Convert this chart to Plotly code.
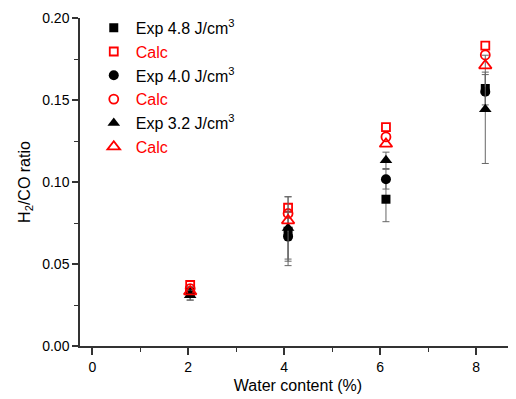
import plotly.graph_objects as go

water = [2.04, 4.08, 6.12, 8.19]

exp_48 = [0.032, 0.070, 0.0895, 0.157]
err_48 = [0.004, 0.021, 0.0137, 0.010]
calc_48 = [0.0372, 0.0843, 0.1335, 0.1832]

exp_40 = [0.033, 0.0667, 0.1017, 0.155]
err_40 = [0.003, 0.015, 0.006, 0.0105]
calc_40 = [0.035, 0.0808, 0.1275, 0.1775]

exp_32 = [0.031, 0.072, 0.1132, 0.1443]
err_32 = [0.003, 0.019, 0.005, 0.033]
calc_32 = [0.0332, 0.0765, 0.1232, 0.171]

names = ["Exp 4.8 J/cm<sup>3</sup>", "Calc", "Exp 4.0 J/cm<sup>3</sup>", "Calc",
         "Exp 3.2 J/cm<sup>3</sup>", "Calc"]

RED = "#FF0000"
fig = go.Figure()

def exp_trace(y, err, sym, name, size):
    return go.Scatter(x=water, y=y, mode="markers", name=name,
                      marker=dict(symbol=sym, size=size, color="black"),
                      error_y=dict(type="data", array=err, visible=True,
                                   color="#666666", thickness=1, width=3.5))

def calc_trace(y, sym, name, size):
    return go.Scatter(x=water, y=y, mode="markers",
                      name="<span style='color:#FF0000'>" + name + "</span>",
                      marker=dict(symbol=sym, size=size, color=RED,
                                  line=dict(color=RED, width=1.8)))

fig.add_trace(exp_trace(exp_48, err_48, "square", names[0], 9))
fig.add_trace(calc_trace(calc_48, "square-open", names[1], 8))
fig.add_trace(exp_trace(exp_40, err_40, "circle", names[2], 10))
fig.add_trace(calc_trace(calc_40, "circle-open", names[3], 9))
fig.add_trace(exp_trace(exp_32, err_32, "triangle-up", names[4], 11))
fig.add_trace(calc_trace(calc_32, "triangle-up-open", names[5], 11))

FONT = "Liberation Sans, Arial, sans-serif"

# page has an 8px body margin, so the figure is sized 8px smaller
fig.update_layout(
    width=508, height=391,
    margin=dict(l=72, r=0, t=10, b=53),
    paper_bgcolor="white", plot_bgcolor="white",
    font=dict(family=FONT, size=14, color="black"),
    showlegend=True,
    legend=dict(x=0.027, y=1.022, xanchor="left", yanchor="top",
                font=dict(family=FONT, size=16, color="black"),
                bgcolor="rgba(0,0,0,0)", tracegroupgap=0,
                itemwidth=34),
    xaxis=dict(range=[-0.256, 8.83], tick0=0, dtick=2, showline=True,
               linecolor="#333333", linewidth=1.5, ticks="outside",
               ticklen=7, tickwidth=1.5, tickcolor="#333333",
               showgrid=False, zeroline=False,
               minor=dict(dtick=1, ticks="outside", ticklen=4,
                          tickcolor="#333333", tickwidth=1.2),
               title=dict(text="Water content (%)",
                          font=dict(family=FONT, size=16), standoff=6),
               tickfont=dict(family=FONT, size=14)),
    yaxis=dict(range=[0, 0.2], dtick=0.05, tickformat=".2f", showline=True,
               linecolor="#333333", linewidth=1.5, ticks="outside",
               ticklen=6, tickwidth=1.5, tickcolor="#333333",
               showgrid=False, zeroline=False,
               minor=dict(dtick=0.025, ticks="outside", ticklen=4,
                          tickcolor="#333333", tickwidth=1.2),
               title=dict(text="H<sub>2</sub>/CO ratio",
                          font=dict(family=FONT, size=16), standoff=8),
               tickfont=dict(family=FONT, size=14)),
)

fig.write_html("out.html")
